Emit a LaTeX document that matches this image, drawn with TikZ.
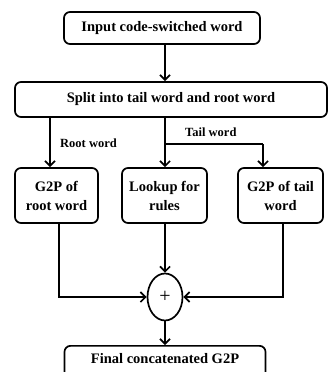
\documentclass[tikz,border=0pt]{standalone}
\usepackage{fontspec}
\setmainfont{Liberation Serif}
\usetikzlibrary{arrows.meta,shapes.geometric}
\begin{document}
\begin{tikzpicture}[x=1pt,y=-1pt,
  box/.style={draw,line width=1.7pt,rounded corners=6pt,inner sep=0pt,align=center,
    font=\fontsize{14.5}{19}\selectfont\bfseries},
  lbl/.style={font=\fontsize{12.5}{14}\selectfont\bfseries,inner sep=0pt},
  arr/.style={line width=1.7pt,-{Straight Barb[length=5pt,width=10pt,line width=1.7pt]}},
  ln/.style={line width=1.7pt}]
\useasboundingbox (0,0) rectangle (331,372);
\node[box,minimum width=196pt,minimum height=32pt] (inp) at (162,28) {Input code-switched word};
\node[box,minimum width=312pt,minimum height=35pt] (split) at (171,99.5) {Split into tail word and root word};
\node[box,minimum width=83pt,minimum height=55pt] (g2pr) at (56.5,195.5) {G2P of\\root word};
\node[box,minimum width=85pt,minimum height=55pt] (look) at (164.5,195.5) {Lookup for\\rules};
\node[box,minimum width=85pt,minimum height=55pt] (g2pt) at (280.5,195.5) {G2P of tail\\word};
\node[draw,ellipse,line width=1.7pt,minimum width=35pt,minimum height=47pt,inner sep=0pt,font=\fontsize{20}{20}\selectfont] (plus) at (165,297) {+};
\node[box,minimum width=201pt,minimum height=40pt,anchor=north] (fin) at (165,345) {};
\node[font=\fontsize{14.5}{19}\selectfont\bfseries,inner sep=0pt] (fint) at (165,359) {Final concatenated G2P};
\coordinate (tb) at (165,144);
\coordinate (tr) at (263,144);
\draw[arr] (inp.south -| 165,0) -- (split.north -| 165,0);
\draw[arr] (split.south -| 50,0) -- (g2pr.north -| 50,0);
\draw[arr] (split.south -| 165,0) -- (look.north -| 165,0);
\draw[ln] (tb) -- (tr);
\draw[arr] (tr) -- (g2pt.north -| 263,0);
\node[lbl,anchor=west] (rw) at (60,143) {Root word};
\node[lbl,anchor=west] (tw) at (185,132) {Tail word};
\draw[arr] (g2pr.south -| 59,0) |- (plus.west);
\draw[arr] (look.south -| 165,0) -- (plus.north);
\draw[arr] (g2pt.south -| 283,0) |- (plus.east);
\draw[arr] (plus.south) -- (fin.north);
\end{tikzpicture}
\end{document}
